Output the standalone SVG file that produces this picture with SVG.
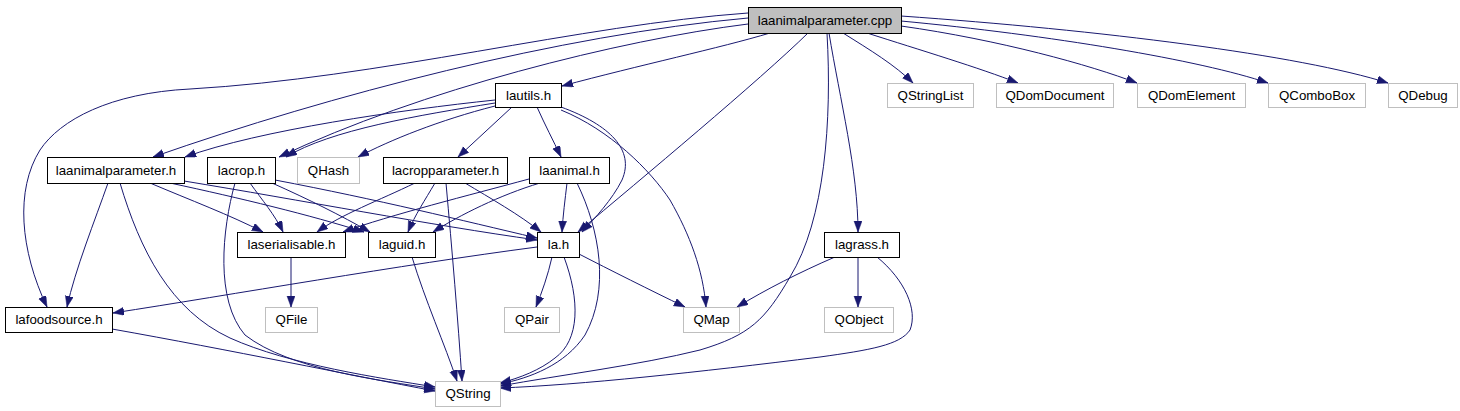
<svg xmlns="http://www.w3.org/2000/svg" width="1460" height="411" viewBox="0 0 1460 411">
<style>
.n rect{fill:#fff;stroke:#000;stroke-width:1}
.x rect{fill:#fff;stroke:#bfbfbf;stroke-width:1}
.r rect{fill:#bfbfbf;stroke:#000;stroke-width:1}
text{font-family:"Liberation Sans",Arial,sans-serif;font-size:13.3px;fill:#000;text-anchor:middle}
#edges path{fill:none;stroke:#191970;stroke-width:1;marker-end:url(#ah)}
</style>
<defs>
<marker id="ah" markerUnits="userSpaceOnUse" markerWidth="12" markerHeight="9" refX="11" refY="4" orient="auto">
<path d="M0,0 L11,4 L0,8 z" fill="#191970" stroke="#191970" stroke-width="0.5"/>
</marker>
</defs>
<rect width="1460" height="411" fill="#fff"/>
<g id="edges">
<path d="M748,13 C580,25 380,78 190,89 C110,93 60,120 40,150 C15,190 20,250 47,307"/>
<path d="M748,18 C560,35 330,95 153,157"/>
<path d="M748,24 C620,40 420,90 279,157"/>
<path d="M770,33 C720,48 640,65 562,86"/>
<path d="M808,33 C760,80 640,180 578,232"/>
<path d="M827,33 C832,120 825,220 790,277 C765,320 750,335 700,350 C640,365 560,375 500,386"/>
<path d="M829,33 C840,100 858,170 858,232"/>
<path d="M843,33 C870,50 895,65 913,83"/>
<path d="M867,33 C920,50 980,68 1018,83"/>
<path d="M901,26 C1000,40 1090,65 1137,83"/>
<path d="M901,21 C1050,35 1200,60 1268,83"/>
<path d="M901,16 C1100,30 1300,55 1388,83"/>
<path d="M495,100 C400,110 260,130 185,157"/>
<path d="M495,103 C420,115 330,130 286,157"/>
<path d="M495,106 C440,120 390,140 358,157"/>
<path d="M512,107 L458,157"/>
<path d="M537,107 C545,125 553,140 561,157"/>
<path d="M561,107 C610,125 635,150 622,180 C612,200 595,218 582,232"/>
<path d="M561,110 C610,130 650,170 670,200 C690,235 703,270 706,307"/>
<path d="M108,183 C95,220 75,270 67,307"/>
<path d="M120,183 C140,250 170,310 230,338 C290,365 380,378 435,387"/>
<path d="M150,183 C190,200 230,215 263,232"/>
<path d="M170,183 C240,198 310,215 364,232"/>
<path d="M184,181 C300,200 430,225 537,240"/>
<path d="M250,183 C262,200 275,215 283,232"/>
<path d="M272,183 C310,200 340,215 370,232"/>
<path d="M275,180 C380,200 460,220 537,238"/>
<path d="M235,183 C222,230 215,300 245,335 C290,370 380,380 435,389"/>
<path d="M415,183 C380,200 340,215 317,232"/>
<path d="M435,183 C425,200 415,215 408,232"/>
<path d="M446,183 C452,250 458,320 462,381"/>
<path d="M465,183 C490,198 520,215 541,232"/>
<path d="M529,179 C470,195 390,215 343,232"/>
<path d="M540,183 C500,195 460,215 433,232"/>
<path d="M567,183 C565,200 563,215 562,232"/>
<path d="M577,183 C600,230 610,290 585,335 C565,365 530,378 500,384"/>
<path d="M291,257 L291,307"/>
<path d="M412,257 C425,300 445,345 457,381"/>
<path d="M537,247 C400,265 230,295 113,313"/>
<path d="M552,257 C548,275 542,292 536,307"/>
<path d="M564,257 C580,300 580,340 555,358 C540,370 520,378 500,383"/>
<path d="M579,254 C610,270 650,290 685,307"/>
<path d="M835,257 C800,272 765,290 737,307"/>
<path d="M858,257 L858,307"/>
<path d="M877,257 C905,280 918,310 910,330 C900,345 870,350 820,357 C700,372 580,385 500,388"/>
<path d="M112,329 C230,350 350,375 435,391"/>
</g>
<g id="laanimalparameter_cpp" class="r"><rect x="748.5" y="7.5" width="153" height="26"/><text x="825" y="24.5">laanimalparameter.cpp</text></g>
<g id="lautils_h" class="n"><rect x="495.5" y="83.5" width="66" height="24"/><text x="528.5" y="99.5">lautils.h</text></g>
<g id="QStringList" class="x"><rect x="887.5" y="83.5" width="86" height="24"/><text x="930.5" y="99.5">QStringList</text></g>
<g id="QDomDocument" class="x"><rect x="996.5" y="83.5" width="117" height="24"/><text x="1055" y="99.5">QDomDocument</text></g>
<g id="QDomElement" class="x"><rect x="1137.5" y="83.5" width="108" height="24"/><text x="1191.5" y="99.5">QDomElement</text></g>
<g id="QComboBox" class="x"><rect x="1268.5" y="83.5" width="97" height="24"/><text x="1317" y="99.5">QComboBox</text></g>
<g id="QDebug" class="x"><rect x="1388.5" y="83.5" width="69" height="24"/><text x="1423" y="99.5">QDebug</text></g>
<g id="laanimalparameter_h" class="n"><rect x="47.5" y="157.5" width="137" height="26"/><text x="116" y="174.5">laanimalparameter.h</text></g>
<g id="lacrop_h" class="n"><rect x="207.5" y="157.5" width="68" height="26"/><text x="241.5" y="174.5">lacrop.h</text></g>
<g id="QHash" class="x"><rect x="297.5" y="157.5" width="62" height="26"/><text x="328.5" y="174.5">QHash</text></g>
<g id="lacropparameter_h" class="n"><rect x="383.5" y="157.5" width="124" height="26"/><text x="445.5" y="174.5">lacropparameter.h</text></g>
<g id="laanimal_h" class="n"><rect x="529.5" y="157.5" width="80" height="26"/><text x="569.5" y="174.5">laanimal.h</text></g>
<g id="laserialisable_h" class="n"><rect x="237.5" y="232.5" width="108" height="25"/><text x="291.5" y="249">laserialisable.h</text></g>
<g id="laguid_h" class="n"><rect x="368.5" y="232.5" width="67" height="25"/><text x="402" y="249">laguid.h</text></g>
<g id="la_h" class="n"><rect x="537.5" y="232.5" width="42" height="25"/><text x="558.5" y="249">la.h</text></g>
<g id="lagrass_h" class="n"><rect x="824.5" y="232.5" width="75" height="25"/><text x="862" y="249">lagrass.h</text></g>
<g id="lafoodsource_h" class="n"><rect x="5.5" y="307.5" width="107" height="25"/><text x="59" y="324">lafoodsource.h</text></g>
<g id="QFile" class="x"><rect x="265.5" y="307.5" width="52" height="25"/><text x="291.5" y="324">QFile</text></g>
<g id="QPair" class="x"><rect x="504.5" y="307.5" width="55" height="25"/><text x="532" y="324">QPair</text></g>
<g id="QMap" class="x"><rect x="683.5" y="307.5" width="56" height="25"/><text x="711.5" y="324">QMap</text></g>
<g id="QObject" class="x"><rect x="824.5" y="307.5" width="69" height="25"/><text x="859" y="324">QObject</text></g>
<g id="QString" class="x"><rect x="435.5" y="381.5" width="65" height="25"/><text x="468" y="398">QString</text></g>
</svg>
